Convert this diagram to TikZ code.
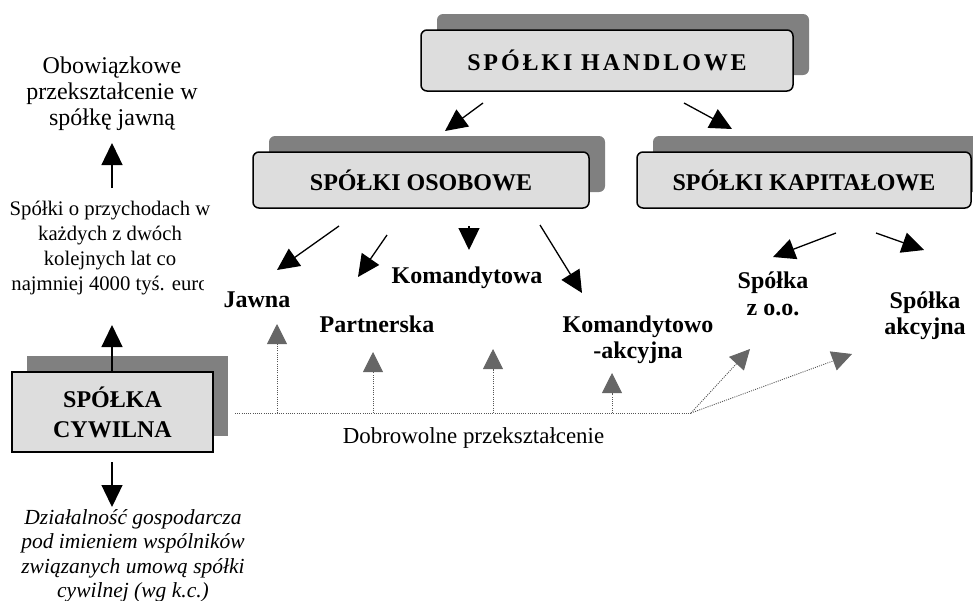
\documentclass[tikz,border=0pt]{standalone}
\usepackage{fontspec}
\setmainfont{Liberation Serif}
\newfontfamily\spacedserif[LetterSpace=12]{Liberation Serif}
\usetikzlibrary{arrows.meta,positioning,shadows}

\definecolor{boxgray}{HTML}{DDDDDD}
\definecolor{shadowgray}{HTML}{808080}
\definecolor{headgray}{HTML}{666666}
\definecolor{dotgray}{HTML}{555555}

\begin{document}
\begin{tikzpicture}[
      x=1pt, y=-1pt,
      box/.style={draw,line width=1.5pt,fill=boxgray,rounded corners=6pt,
                  general shadow={draw=none,fill=shadowgray,shadow xshift=16pt,shadow yshift=16pt},
                  inner sep=0pt,font=\bfseries\fontsize{24}{28}\selectfont},
      sqbox/.style={draw,line width=1.5pt,fill=boxgray,
                  general shadow={draw=none,fill=shadowgray,shadow xshift=15pt,shadow yshift=16pt},
                  inner sep=0pt,align=center,font=\bfseries\fontsize{24}{30}\selectfont},
      lbl/.style={inner sep=0pt,align=center,font=\bfseries\fontsize{24}{26.5}\selectfont},
      note/.style={inner sep=0pt,align=center},
      arr/.style={-{Triangle[length=22pt,width=21pt]},line width=1.3pt},
      dotarr/.style={-{Triangle[length=20pt,width=20pt,color=headgray,fill=headgray]},
                  dotgray,line width=0.9pt,dash pattern=on 1pt off 1.2pt},
      dotline/.style={dotgray,line width=0.9pt,dash pattern=on 1pt off 1.2pt},
    ]
    \useasboundingbox (0,0) rectangle (973,600);

    % ── Main boxes ─────────────────────────────────────────────────────────
    \node[box,minimum width=372pt,minimum height=61pt] (handlowe) at (607,60.5)
         {\spacedserif\bfseries SPÓŁKI HANDLOWE};
    \node[box,minimum width=336pt,minimum height=56pt] (osobowe) at (421,180)
         {SPÓŁKI OSOBOWE};
    \node[box,minimum width=334pt,minimum height=56pt] (kapitalowe) at (804,180)
         {SPÓŁKI KAPITAŁOWE};
    \node[sqbox,minimum width=201pt,minimum height=80pt] (cywilna) at (112.5,412)
         {SPÓŁKA\\CYWILNA};

    % ── Kinds of companies ─────────────────────────────────────────────────
    \node[lbl,anchor=base] (jawna)       at (257,307) {Jawna};
    \node[lbl,anchor=base] (partnerska)  at (377,332) {Partnerska};
    \node[lbl,anchor=base] (komandytowa) at (467,283) {Komandytowa};
    \node[lbl] (komakc)  at (638,340)   {Komandytowo\\-akcyjna};
    \node[lbl] (zoo)     at (773,294)   {Spółka\\z o.o.};
    \node[lbl] (akcyjna) at (925,315.5) {Spółka\\akcyjna};

    % ── Notes on the left ──────────────────────────────────────────────────
    \node[note,font=\fontsize{24}{26}\selectfont] (obowiazek) at (112,94)
         {Obowiązkowe\\przekształcenie w\\spółkę jawną};
    \begin{scope}
      \clip (0,190) -- (240,190) -- (240,272) -- (203,272) -- (203,300) -- (0,300) -- cycle;
      \node[note,font=\fontsize{20.7}{25}\selectfont] (przychody) at (110,248)
           {Spółki o przychodach w\\każdych z dwóch\\kolejnych lat co\\najmniej 4000 tyś. euro};
    \end{scope}
    \node[note,anchor=north,font=\itshape\fontsize{21.5}{24.5}\selectfont] (dzialalnosc) at (133,509)
         {Działalność gospodarcza\\pod imieniem wspólników\\związanych umową spółki\\cywilnej (wg k.c.)};
    \node[note,anchor=base,font=\fontsize{22.9}{26}\selectfont] (dobrowolne) at (473.5,443)
         {Dobrowolne przekształcenie};

    % ── Arrow ends ─────────────────────────────────────────────────────────
    \coordinate (h1s) at (483,103);  \coordinate (h1e) at (445,131);
    \coordinate (h2s) at (684,103);  \coordinate (h2e) at (732,129);
    \coordinate (o1s) at (339,226);  \coordinate (o1e) at (277,270);
    \coordinate (o2s) at (387,235);  \coordinate (o2e) at (358,277);
    \coordinate (o3s) at (469,226);  \coordinate (o3e) at (469,250);
    \coordinate (o4s) at (540,225);  \coordinate (o4e) at (582,293);
    \coordinate (k1s) at (836,233);  \coordinate (k1e) at (773,257);
    \coordinate (k2s) at (876,233);  \coordinate (k2e) at (924,250);
    \coordinate (c1s) at (112,188);  \coordinate (c1e) at (112,143);
    \coordinate (c2e) at (112,325);
    \coordinate (c3s) at (112,462);  \coordinate (c3e) at (112,507);

    % ── Black arrows ───────────────────────────────────────────────────────
    \draw[arr] (h1s) -- (h1e);
    \draw[arr] (h2s) -- (h2e);
    \draw[arr] (o1s) -- (o1e);
    \draw[arr] (o2s) -- (o2e);
    \draw[arr] (o3s) -- (o3e);
    \draw[arr] (o4s) -- (o4e);
    \draw[arr] (k1s) -- (k1e);
    \draw[arr] (k2s) -- (k2e);
    \draw[arr] (c1s) -- (c1e);
    \draw[arr] (cywilna.north -| c2e) -- (c2e);
    \draw[arr] (c3s) -- (c3e);

    % ── Voluntary conversion (dotted) ──────────────────────────────────────
    \coordinate (dl) at (235,413);
    \coordinate (dr) at (691,413);
    \foreach \name/\x in {b1/277,b2/373,b3/493,b4/612}
      \coordinate (\name) at (\x,413);
    \coordinate (t1) at (277,324);
    \coordinate (t2) at (373,352);
    \coordinate (t3) at (493,349);
    \coordinate (t4) at (612,373);
    \coordinate (t5) at (750,349);
    \coordinate (t6) at (852,354);

    \draw[dotline] (dl) -- (dr);
    \draw[dotarr] (b1) -- (t1);
    \draw[dotarr] (b2) -- (t2);
    \draw[dotarr] (b3) -- (t3);
    \draw[dotarr] (b4) -- (t4);
    \draw[dotarr] (dr) -- (t5);
    \draw[dotarr] (dr) -- (t6);

  \end{tikzpicture}
\end{document}
